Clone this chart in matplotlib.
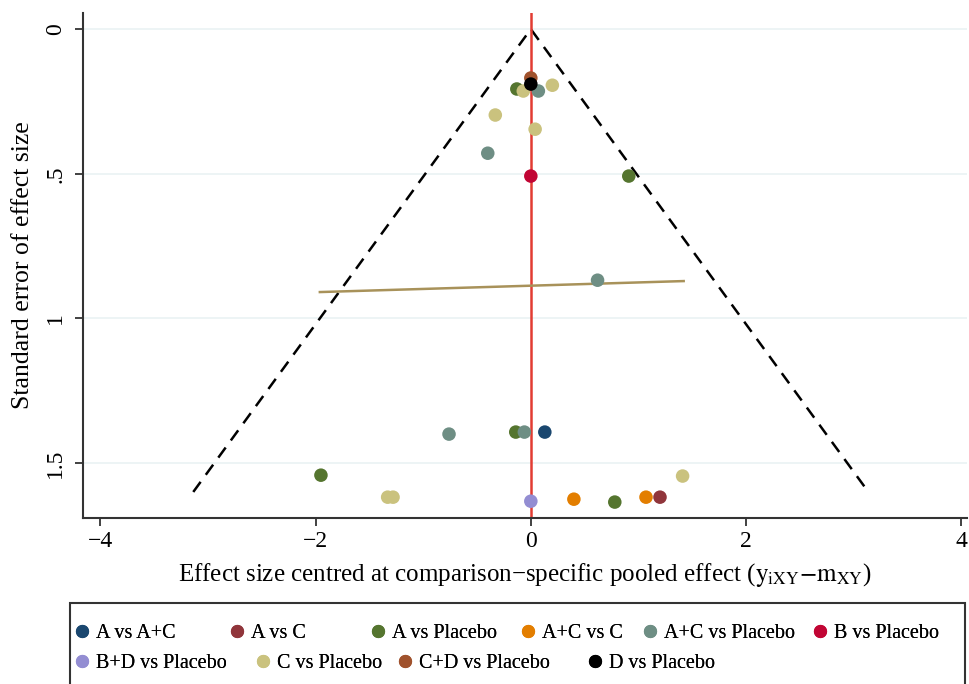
"""Comparison-adjusted funnel plot."""

import matplotlib
matplotlib.use('Agg')
import matplotlib.pyplot as plt
from matplotlib.lines import Line2D
from matplotlib.patches import Rectangle

plt.rcParams['font.family'] = ['Liberation Serif', 'DejaVu Serif']
plt.rcParams['mathtext.fontset'] = 'stix'

comparisons = ['A vs A+C', 'A vs C', 'A vs Placebo', 'A+C vs C',
               'A+C vs Placebo', 'B vs Placebo', 'B+D vs Placebo',
               'C vs Placebo', 'C+D vs Placebo', 'D vs Placebo']
colors = ['#1a476f', '#90353b', '#55752f', '#e37e00', '#6e8e84',
          '#c10534', '#938dd2', '#cac27e', '#a0522d', '#000000']

# centred effect sizes and standard errors per comparison
effect = {
    'A vs A+C': [0.13],
    'A vs C': [1.20],
    'A vs Placebo': [-0.13, 0.91, -0.14, -1.95, 0.78],
    'A+C vs C': [0.40, 1.07],
    'A+C vs Placebo': [0.07, -0.40, 0.62, -0.76, -0.06],
    'B vs Placebo': [0.0],
    'B+D vs Placebo': [0.0],
    'C vs Placebo': [-0.07, 0.20, -0.33, 0.04, -1.33, -1.28, 1.41],
    'C+D vs Placebo': [0.0],
    'D vs Placebo': [0.0],
}
std_err = {
    'A vs A+C': [1.393],
    'A vs C': [1.618],
    'A vs Placebo': [0.207, 0.508, 1.393, 1.542, 1.635],
    'A+C vs C': [1.625, 1.618],
    'A+C vs Placebo': [0.214, 0.429, 0.868, 1.400, 1.393],
    'B vs Placebo': [0.508],
    'B+D vs Placebo': [1.632],
    'C vs Placebo': [0.214, 0.194, 0.297, 0.346, 1.618, 1.618, 1.545],
    'C+D vs Placebo': [0.169],
    'D vs Placebo': [0.190],
}

# pseudo 95% confidence limits
funnel_se = [1.6, 0.0, 1.6]
funnel_x = [-1.96 * 1.6, 0.0, 1.96 * 1.6]

# fitted line across the range of effects
fit_x = [-1.96, 1.42]
fit_se = [0.909, 0.871]

fig = plt.figure(figsize=(9.69, 6.84), dpi=100)
ax = fig.add_axes([0.0857, 0.2427, 0.912, 0.738])

for yv in [0, 0.5, 1, 1.5]:
    ax.axhline(yv, color='#eaf2f3', linewidth=1.2, zorder=0)

ax.plot(funnel_x, funnel_se, color='black', linestyle=(0, (5, 3.5)),
        linewidth=1.8, zorder=2)
ax.axvline(0, color='#e23c32', linewidth=1.8, zorder=2)
ax.plot(fit_x, fit_se, color='#a8925a', linewidth=1.8, zorder=3)

for name, col in zip(comparisons, colors):
    ax.scatter(effect[name], std_err[name], s=95, color=col,
               edgecolors='none', zorder=4)

ax.set_xlim(-4.16, 4.05)
ax.set_ylim(1.69, -0.055)
ax.set_xticks([-4, -2, 0, 2, 4])
ax.set_xticklabels(['\u22124', '\u22122', '0', '2', '4'])
ax.set_yticks([0, 0.5, 1, 1.5])
ax.set_yticklabels(['0', '.5', '1', '1.5'], rotation=90, va='center')
ax.tick_params(labelsize=17, length=6, width=1.3, color='#333333')
ax.tick_params(axis='y', pad=6)

for side in ['top', 'right']:
    ax.spines[side].set_visible(False)
for side in ['left', 'bottom']:
    ax.spines[side].set_linewidth(1.5)
    ax.spines[side].set_color('#333333')

ax.set_ylabel('Standard error of effect size', fontsize=18.5, labelpad=8)
ax.set_xlabel('Effect size centred at comparison\u2212specific pooled effect '
              r'($\mathrm{y}_{\mathrm{iXY}}\mathrm{-m}_{\mathrm{XY}}$)',
              fontsize=18, labelpad=6)

# legend box; entries placed like Stata's uneven two-row layout
fig.patches.append(Rectangle((70 / 969, -0.01), 895 / 969, 0.128,
                             transform=fig.transFigure, fill=False,
                             edgecolor='#333333', linewidth=1.5))

key_px = [82, 237, 378, 528, 650, 820, 82, 263, 405, 595]
row_y = [0.0745] * 6 + [0.030] * 4
for name, col, kx, ky in zip(comparisons, colors, key_px, row_y):
    h = Line2D([], [], marker='o', linestyle='none', markersize=9.5,
               markerfacecolor=col, markeredgecolor='none')
    leg = fig.legend([h], [name], loc='center left',
                     bbox_to_anchor=((kx - 8) / 969, ky),
                     frameon=False, fontsize=14.5, handletextpad=0.3,
                     handlelength=0.8, borderaxespad=0, borderpad=0)
    fig.add_artist(leg)

fig.savefig('out.png', dpi=100)
